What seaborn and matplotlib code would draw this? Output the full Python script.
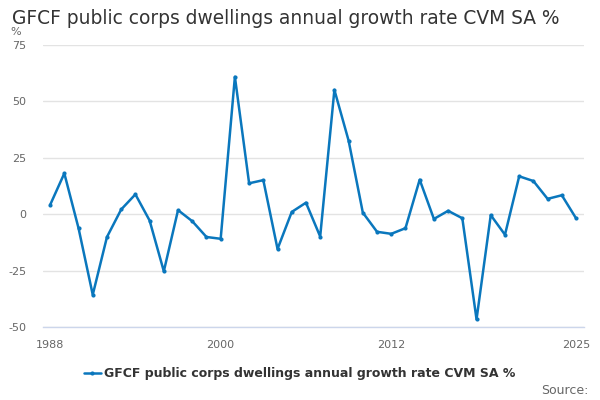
import pandas as pd
import matplotlib
matplotlib.use("Agg")
import matplotlib.pyplot as plt
import seaborn as sns

# Datos
years = list(range(1988, 2026))
growth = [4.1, 18.1, -6.2, -35.7, -10.1, 2.1, 8.8, -2.8, -25.3, 1.8,
          -3.1, -10.1, -10.9, 60.9, 13.7, 15.1, -15.4, 1.0, 5.1, -9.9,
          55.1, 32.6, 0.7, -7.8, -8.7, -6.2, 15.3, -2.1, 1.5, -1.8,
          -46.6, -0.4, -9.1, 16.8, 14.7, 6.8, 8.4, -1.8]
series_name = "GFCF public corps dwellings annual growth rate CVM SA %"
tick_years = [1988, 1991, 1994, 1997, 2000, 2003, 2006, 2009, 2012, 2015, 2018, 2021, 2025]
label_years = [1988, 2000, 2012, 2025]
y_ticks = [-50, -25, 0, 25, 50, 75]

df = pd.DataFrame({"year": years, "value": growth})

sns.set_style("white")
plt.rcParams["font.family"] = ["DejaVu Sans"]

fig = plt.figure(figsize=(6, 4), dpi=100)
ax = fig.add_axes([43 / 600, 1 - 327 / 400, 541 / 600, 282 / 400])

color = "#0a77bd"
sns.lineplot(data=df, x="year", y="value", ax=ax, color=color, linewidth=1.8,
             marker="o", markersize=3, markeredgewidth=0, label=series_name)

ax.set_xlim(1987.5, 2025.56)
ax.set_ylim(-50, 75)
ax.set_yticks(y_ticks)
ax.set_yticklabels([str(v) for v in y_ticks])
ax.yaxis.grid(True, color="#e3e3e3", linewidth=1)
ax.set_axisbelow(True)

ax.set_xticks(tick_years)
ax.set_xticklabels([str(y) if y in label_years else "" for y in tick_years])
ax.tick_params(axis="x", length=8, color="#ccd6eb", labelsize=8, labelcolor="#666666", pad=1)
ax.tick_params(axis="y", length=0, labelsize=8, labelcolor="#666666", pad=12)

for s in ["top", "right", "left"]:
    ax.spines[s].set_visible(False)
ax.spines["bottom"].set_color("#ccd6eb")
ax.spines["bottom"].set_linewidth(1)
ax.set_xlabel("")
ax.set_ylabel("")

fig.text(12 / 600, 1 - 18 / 400, series_name, fontsize=13.4, color="#333333", va="center")
fig.text(10 / 600, 1 - 32 / 400, "%", fontsize=8, color="#666666", va="center")

handles, labels = ax.get_legend_handles_labels()
ax.get_legend().remove()
leg = fig.legend(handles, labels, loc="center", bbox_to_anchor=(0.5, 1 - 374 / 400), frameon=False,
                 prop={"weight": "bold", "size": 9}, handlelength=1.3, handletextpad=0.3)
for t in leg.get_texts():
    t.set_color("#333333")

fig.text(589 / 600, 1 - 390 / 400, "Source:", fontsize=9, color="#666666", ha="right", va="center")

fig.savefig("out.png", dpi=100)
